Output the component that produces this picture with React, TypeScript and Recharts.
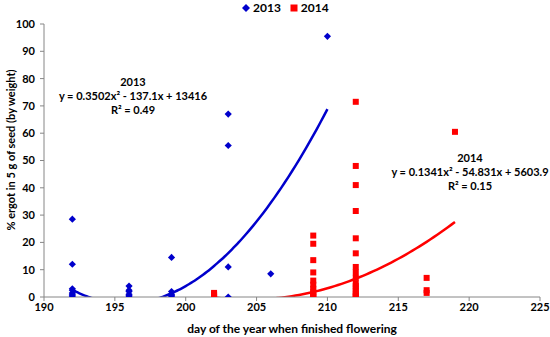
import {
  ComposedChart,
  Scatter,
  Line,
  XAxis,
  YAxis,
  Legend,
  Label,
} from "recharts";

const FONT = "Lato, 'Liberation Sans', sans-serif";

// day of year when flowering finished, and % ergot per sample at that day
const days2013 = [192, 196, 199, 203, 206, 210];
const ergot2013 = [
  [28.5, 12, 3, 2.5, 1.5, 1, 0.5, 0],
  [4, 2.5, 2, 1, 0.5, 0],
  [14.5, 2, 1, 0.5, 0],
  [67, 55.5, 11, 0],
  [8.5],
  [95.5],
];

const days2014 = [202, 209, 212, 217, 219];
const ergot2014 = [
  [1.5, 1, 0.5, 0],
  [22.5, 19.5, 13.5, 9, 6, 4.5, 3, 2, 1, 0.5, 0],
  [71.5, 48, 41, 31.5, 21.5, 16, 11, 9, 7, 5, 4, 3, 2, 1, 0.5, 0],
  [7, 2.5, 1.5],
  [60.5],
];

// polynomial trendlines as printed on the chart: a*x^2 + b*x + c
const trend2013 = { a: 0.3502, b: -137.1, c: 13416, from: 192, to: 210 };
const trend2014 = { a: 0.1341, b: -54.831, c: 5603.9, from: 202, to: 219 };

const xTicks = [190, 195, 200, 205, 210, 215, 220, 225];
const yTicks = [0, 10, 20, 30, 40, 50, 60, 70, 80, 90, 100];

const BLUE = "#0000cc";
const RED = "#ff0000";

type Pt = { x: number; y: number };

const toPoints = (days: number[], values: number[][]): Pt[] =>
  days.flatMap((d, i) => values[i].map((v) => ({ x: d, y: v })));

const trendPoints = (t: typeof trend2013) => {
  const pts: Pt[] = [];
  for (let x = t.from; x <= t.to + 1e-9; x += 0.25) {
    pts.push({ x, y: t.a * x * x + t.b * x + t.c });
  }
  return pts;
};

const Diamond = (props: any) => {
  const { cx, cy } = props;
  const r = 3.6;
  return (
    <polygon
      points={`${cx},${cy - r} ${cx + r},${cy} ${cx},${cy + r} ${cx - r},${cy}`}
      fill={BLUE}
    />
  );
};

const Square = (props: any) => {
  const { cx, cy } = props;
  const s = 3;
  return <rect x={cx - s} y={cy - s} width={s * 2} height={s * 2} fill={RED} />;
};

const tickStyle = { fontFamily: FONT, fontSize: 11, fontWeight: 700, fill: "#000" };
const noteStyle = { fontFamily: FONT, fontSize: 11, fontWeight: 700, fill: "#000" };

const YTitle = () => (
  <text
    x={15}
    y={150}
    transform="rotate(-90, 15, 150)"
    textAnchor="middle"
    style={{ fontFamily: FONT, fontSize: 11, fontWeight: 700, fill: "#000" }}
  >
    % ergot in 5 g of seed (by weight)
  </text>
);

const LegendBox = (props: any) => {
  const items = (props.payload || []).filter((p: any) => p.type !== "none");
  return (
    <div style={{ display: "flex", gap: 9, fontFamily: FONT, fontSize: 12, fontWeight: 700 }}>
      {items.map((p: any) => (
        <span key={p.value} style={{ display: "flex", alignItems: "center", gap: 3 }}>
          <svg width={8} height={8}>
            {p.type === "diamond" ? (
              <polygon points="4,0 8,4 4,8 0,4" fill={p.color} />
            ) : (
              <rect x={0.5} y={0.5} width={7} height={7} fill={p.color} />
            )}
          </svg>
          <span style={{ color: "#000" }}>{p.value}</span>
        </span>
      ))}
    </div>
  );
};

export default function App() {
  const pts2013 = toPoints(days2013, ergot2013);
  const pts2014 = toPoints(days2014, ergot2014);

  return (
    <div style={{ position: "absolute", left: 0, top: 0 }}>
      <ComposedChart
        width={550}
        height={337}
        margin={{ top: 9, right: 10, bottom: 0, left: 0 }}
      >
        <XAxis
          type="number"
          dataKey="x"
          domain={[190, 225]}
          ticks={xTicks}
          allowDataOverflow
          stroke="#868686"
          tickSize={4}
          tick={tickStyle}
          height={40}
        >
          <Label
            value="day of the year when finished flowering"
            position="insideBottom"
            offset={4}
            style={{ fontFamily: FONT, fontSize: 12, fontWeight: 700, fill: "#000" }}
          />
        </XAxis>
        <YAxis
          type="number"
          dataKey="y"
          domain={[0, 100]}
          ticks={yTicks}
          allowDataOverflow
          stroke="#868686"
          tickSize={4}
          tickMargin={5}
          tick={tickStyle}
          width={44}
        >
          <Label content={YTitle} />
        </YAxis>
        <Legend
          verticalAlign="top"
          align="center"
          content={LegendBox}
          wrapperStyle={{ top: 0, left: 242, width: "auto" }}
        />
        <Scatter
          name="2013"
          data={pts2013}
          fill={BLUE}
          legendType="diamond"
          shape={Diamond}
          isAnimationActive={false}
        />
        <Scatter
          name="2014"
          data={pts2014}
          fill={RED}
          legendType="square"
          shape={Square}
          isAnimationActive={false}
        />
        <Line
          data={trendPoints(trend2013)}
          dataKey="y"
          type="monotone"
          stroke={BLUE}
          strokeWidth={2.5}
          dot={false}
          activeDot={false}
          legendType="none"
          isAnimationActive={false}
        />
        <Line
          data={trendPoints(trend2014)}
          dataKey="y"
          type="monotone"
          stroke={RED}
          strokeWidth={2.5}
          dot={false}
          activeDot={false}
          legendType="none"
          isAnimationActive={false}
        />
        <g textAnchor="middle" style={noteStyle}>
          <text x={133} y={86} style={noteStyle}>2013</text>
          <text x={133} y={100} style={noteStyle}>y = 0.3502x² - 137.1x + 13416</text>
          <text x={133} y={114} style={noteStyle}>R² = 0.49</text>
          <text x={470} y={162} style={noteStyle}>2014</text>
          <text x={470} y={176} style={noteStyle}>y = 0.1341x² - 54.831x + 5603.9</text>
          <text x={470} y={190} style={noteStyle}>R² = 0.15</text>
        </g>
      </ComposedChart>
    </div>
  );
}
